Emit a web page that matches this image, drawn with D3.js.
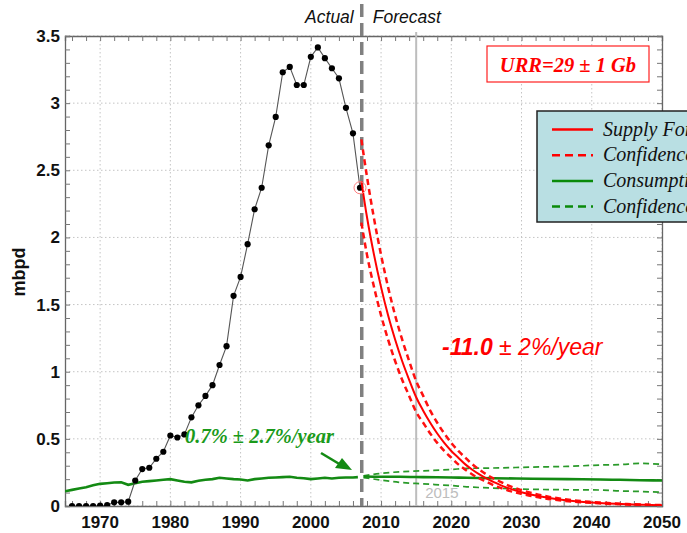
<!DOCTYPE html>
<html><head><meta charset="utf-8">
<script src="https://cdn.jsdelivr.net/npm/d3@7"></script>
<style>
html,body{margin:0;padding:0;background:#fff;overflow:hidden;}
svg{display:block;}
</style></head>
<body>
<svg id="c" width="687" height="533"></svg>
<script>
// ---- data ----
const prodYears = [1966,1967,1968,1969,1970,1971,1972,1973,1974,1975,1976,1977,1978,1979,1980,1981,1982,1983,1984,1985,1986,1987,1988,1989,1990,1991,1992,1993,1994,1995,1996,1997,1998,1999,2000,2001,2002,2003,2004,2005,2006,2007];
const prodValues = [0,0,0,0,0.003,0.006,0.027,0.027,0.032,0.19,0.275,0.285,0.352,0.404,0.525,0.51,0.533,0.66,0.75,0.82,0.90,1.05,1.19,1.565,1.706,1.95,2.21,2.37,2.686,2.897,3.23,3.27,3.135,3.135,3.345,3.415,3.335,3.26,3.185,2.965,2.775,2.37];

const consYears = [1965,1966,1967,1968,1969,1970,1971,1972,1973,1974,1975,1976,1977,1978,1979,1980,1981,1982,1983,1984,1985,1986,1987,1988,1989,1990,1991,1992,1993,1994,1995,1996,1997,1998,1999,2000,2001,2002,2003,2004,2005,2006,2006.7];
const consValues = [0.11,0.12,0.13,0.14,0.155,0.165,0.17,0.175,0.177,0.158,0.17,0.18,0.185,0.19,0.195,0.2,0.19,0.18,0.176,0.188,0.195,0.2,0.21,0.205,0.2,0.197,0.19,0.2,0.205,0.21,0.212,0.215,0.218,0.21,0.207,0.2,0.205,0.21,0.205,0.21,0.212,0.212,0.215];

const fcYears = [2007.2,2008,2009,2010,2011,2012,2013,2014,2015,2016,2017,2018,2019,2020,2021,2022,2023,2024,2025,2026,2027,2028,2030,2032,2034,2036,2038,2040,2045,2050];
const supplyValues = [2.42,2.15,1.87,1.63,1.42,1.24,1.08,0.94,0.81,0.71,0.62,0.54,0.47,0.41,0.36,0.31,0.27,0.235,0.205,0.18,0.155,0.135,0.103,0.078,0.059,0.045,0.034,0.026,0.013,0.006];
const supplyUpper = [2.73,2.45,2.14,1.87,1.63,1.42,1.24,1.08,0.93,0.82,0.71,0.62,0.54,0.47,0.41,0.36,0.31,0.27,0.235,0.205,0.18,0.155,0.118,0.09,0.068,0.052,0.039,0.03,0.015,0.007];
const supplyLower = [2.11,1.87,1.63,1.42,1.24,1.08,0.94,0.82,0.70,0.62,0.54,0.47,0.41,0.36,0.31,0.27,0.235,0.205,0.18,0.155,0.135,0.117,0.09,0.068,0.051,0.039,0.03,0.023,0.011,0.005];

const consFcYears = [2007.5,2010,2012.7,2016,2020,2022.2,2026,2031.6,2036.5,2041.2,2044,2046.9,2050];
const consFcValues = [0.22,0.218,0.218,0.215,0.212,0.21,0.207,0.203,0.2,0.197,0.195,0.192,0.19];
const consFcUpper = [0.225,0.243,0.255,0.262,0.272,0.28,0.283,0.29,0.295,0.305,0.308,0.317,0.31];
const consFcLower = [0.212,0.193,0.176,0.165,0.152,0.143,0.133,0.124,0.121,0.119,0.112,0.108,0.102];

const xTicks = [1970,1980,1990,2000,2010,2020,2030,2040,2050];
const yTicks = [0,0.5,1,1.5,2,2.5,3,3.5];
const legendLabels = ["Supply Forecast","Confidence Interval","Consumption","Confidence Interval"];

// ---- layout ----
const svg = d3.select("#c");
const L = 65, R = 662, T = 36, B = 506;
const x = d3.scaleLinear().domain([1965,2050]).range([L,R]);
const y = d3.scaleLinear().domain([0,3.5]).range([B,T]);
const SANS = "'Liberation Sans', Arial, sans-serif";
const SERIF = "'Liberation Serif', 'Times New Roman', serif";

svg.append("defs").append("clipPath").attr("id","plot")
  .append("rect").attr("x",L).attr("y",T).attr("width",R-L).attr("height",B-T);

// grid
const g = svg.append("g");
g.selectAll("line.gx").data(xTicks).join("line")
  .attr("x1",d=>x(d)).attr("x2",d=>x(d)).attr("y1",T).attr("y2",B)
  .attr("stroke","#c4c4c4").attr("stroke-width",1).attr("stroke-dasharray","1.5,2.5");
g.selectAll("line.gy").data(yTicks).join("line")
  .attr("x1",L).attr("x2",R).attr("y1",d=>y(d)).attr("y2",d=>y(d))
  .attr("stroke","#c4c4c4").attr("stroke-width",1).attr("stroke-dasharray","1.5,2.5");

// axes with inward minor ticks
const minorX = d3.range(1966,2051,2);
const minorY = d3.range(0,3.51,0.1);
const axB = d3.axisBottom(x).tickValues(minorX).tickSize(-5).tickFormat("");
const axT = d3.axisTop(x).tickValues(minorX).tickSize(-5).tickFormat("");
const axL = d3.axisLeft(y).tickValues(minorY).tickSize(-5).tickFormat("");
const axR = d3.axisRight(y).tickValues(minorY).tickSize(-5).tickFormat("");
function styleAx(sel){ sel.selectAll("path").attr("stroke","#666").attr("stroke-width",1.3);
  sel.selectAll("line").attr("stroke","#777"); }
svg.append("g").attr("transform",`translate(0,${B})`).call(axB).call(styleAx);
svg.append("g").attr("transform",`translate(0,${T})`).call(axT).call(styleAx);
svg.append("g").attr("transform",`translate(${L},0)`).call(axL).call(styleAx);
svg.append("g").attr("transform",`translate(${R},0)`).call(axR).call(styleAx);

// tick labels
svg.append("g").selectAll("text").data(xTicks).join("text")
  .attr("x",d=>x(d)).attr("y",528).attr("text-anchor","middle")
  .attr("font-family",SANS).attr("font-weight","bold").attr("font-size",17).attr("fill","#111")
  .text(d=>d);
svg.append("g").selectAll("text").data(yTicks).join("text")
  .attr("x",60).attr("y",d=>y(d)+6).attr("text-anchor","end")
  .attr("font-family",SANS).attr("font-weight","bold").attr("font-size",17).attr("fill","#111")
  .text(d=>d);
svg.append("text").attr("transform","translate(25,272) rotate(-90)").attr("text-anchor","middle")
  .attr("font-family",SANS).attr("font-weight","bold").attr("font-size",18).attr("fill","#111").text("mbpd");

// 2015 line
svg.append("line").attr("x1",x(2015)).attr("x2",x(2015)).attr("y1",32).attr("y2",B)
  .attr("stroke","#bdbdbd").attr("stroke-width",2);
svg.append("text").attr("x",x(2015)+9).attr("y",498).attr("font-family",SANS).attr("font-size",15)
  .attr("fill","#bdbdbd").text("2015");

// actual/forecast divider
const divX = x(2007.25);
svg.append("line").attr("x1",divX).attr("x2",divX).attr("y1",4).attr("y2",B)
  .attr("stroke","#808080").attr("stroke-width",3.5).attr("stroke-dasharray","13,6");
svg.append("text").attr("x",divX-8).attr("y",23).attr("text-anchor","end")
  .attr("font-family",SANS).attr("font-style","italic").attr("font-size",17.5).attr("fill","#111").text("Actual");
svg.append("text").attr("x",divX+11).attr("y",23)
  .attr("font-family",SANS).attr("font-style","italic").attr("font-size",17.5).attr("fill","#111").text("Forecast");

const plot = svg.append("g").attr("clip-path","url(#plot)");
const line = (xs,ys)=> d3.line().x((d,i)=>x(xs[i])).y((d,i)=>y(ys[i]))(ys);
const curve = (xs,ys)=> d3.line().curve(d3.curveMonotoneX).x((d,i)=>x(xs[i])).y((d,i)=>y(ys[i]))(ys);

// consumption history
plot.append("path").attr("d",line(consYears,consValues)).attr("fill","none")
  .attr("stroke","#138a13").attr("stroke-width",2.6);
// consumption forecast
plot.append("path").attr("d",curve(consFcYears,consFcUpper)).attr("fill","none")
  .attr("stroke","#2a9a2a").attr("stroke-width",1.7).attr("stroke-dasharray","6,4");
plot.append("path").attr("d",curve(consFcYears,consFcLower)).attr("fill","none")
  .attr("stroke","#2a9a2a").attr("stroke-width",1.7).attr("stroke-dasharray","6,4");
plot.append("path").attr("d",curve(consFcYears,consFcValues)).attr("fill","none")
  .attr("stroke","#138a13").attr("stroke-width",2.6);

// production history
plot.append("path").attr("d",line(prodYears,prodValues)).attr("fill","none")
  .attr("stroke","#555").attr("stroke-width",1.1);
plot.append("g").selectAll("circle").data(prodValues).join("circle")
  .attr("cx",(d,i)=>x(prodYears[i])).attr("cy",d=>y(d)).attr("r",3.1).attr("fill","#000");

// supply forecast
plot.append("path").attr("d",curve(fcYears,supplyUpper)).attr("fill","none")
  .attr("stroke","#ff1010").attr("stroke-width",2.5).attr("stroke-dasharray","6,4");
plot.append("path").attr("d",curve(fcYears,supplyLower)).attr("fill","none")
  .attr("stroke","#ff1010").attr("stroke-width",2.5).attr("stroke-dasharray","6,4");
plot.append("path").attr("d",curve(fcYears,supplyValues)).attr("fill","none")
  .attr("stroke","#ff0000").attr("stroke-width",2);

// red circle at last actual
svg.append("circle").attr("cx",x(prodYears[prodYears.length-1])).attr("cy",y(prodValues[prodValues.length-1]))
  .attr("r",6).attr("fill","none").attr("stroke","#ff8080").attr("stroke-width",1);

// URR box
svg.append("rect").attr("x",487).attr("y",46).attr("width",162).attr("height",36)
  .attr("fill","#fff").attr("stroke","#ff2020").attr("stroke-width",1.2);
svg.append("text").attr("x",568).attr("y",72).attr("text-anchor","middle")
  .attr("font-family",SERIF).attr("font-weight","bold").attr("font-style","italic").attr("font-size",20.5)
  .attr("fill","#ff0000").text("URR=29 ± 1 Gb");

// legend
const lg = svg.append("g");
lg.append("rect").attr("x",537).attr("y",111).attr("width",170).attr("height",111)
  .attr("fill","#b9dfe3").attr("stroke","#222").attr("stroke-width",1.5);
const lgColors = ["#ff0000","#ff0000","#0a8a0a","#0a8a0a"];
const lgDash = [null,"8,5",null,"8,5"];
legendLabels.forEach((t,i)=>{
  const yy = 129.5 + i*25.7;
  lg.append("line").attr("x1",552).attr("x2",593).attr("y1",yy).attr("y2",yy)
    .attr("stroke",lgColors[i]).attr("stroke-width",2.5).attr("stroke-dasharray",lgDash[i]);
  lg.append("text").attr("x",603).attr("y",yy+6).attr("font-family",SERIF).attr("font-style","italic")
    .attr("font-size",20).attr("fill","#111").text(t);
});

// annotations
const rt = svg.append("text").attr("x",442).attr("y",355).attr("font-family",SANS).attr("font-style","italic")
  .attr("font-size",23).attr("fill","#ff0000");
rt.append("tspan").attr("font-weight","bold").text("-11.0");
rt.append("tspan").text(" ± 2%/year");

svg.append("text").attr("x",185).attr("y",443).attr("font-family",SERIF).attr("font-style","italic")
  .attr("font-weight","bold").attr("font-size",20.5).attr("fill","#1a9a1a").text("0.7% ± 2.7%/year");

// green arrow
svg.append("line").attr("x1",321).attr("y1",453).attr("x2",341).attr("y2",465)
  .attr("stroke","#138a13").attr("stroke-width",2.6);
svg.append("path").attr("d","M352,470 L335,468 L342,458 Z").attr("fill","#138a13");
</script>
</body></html>
